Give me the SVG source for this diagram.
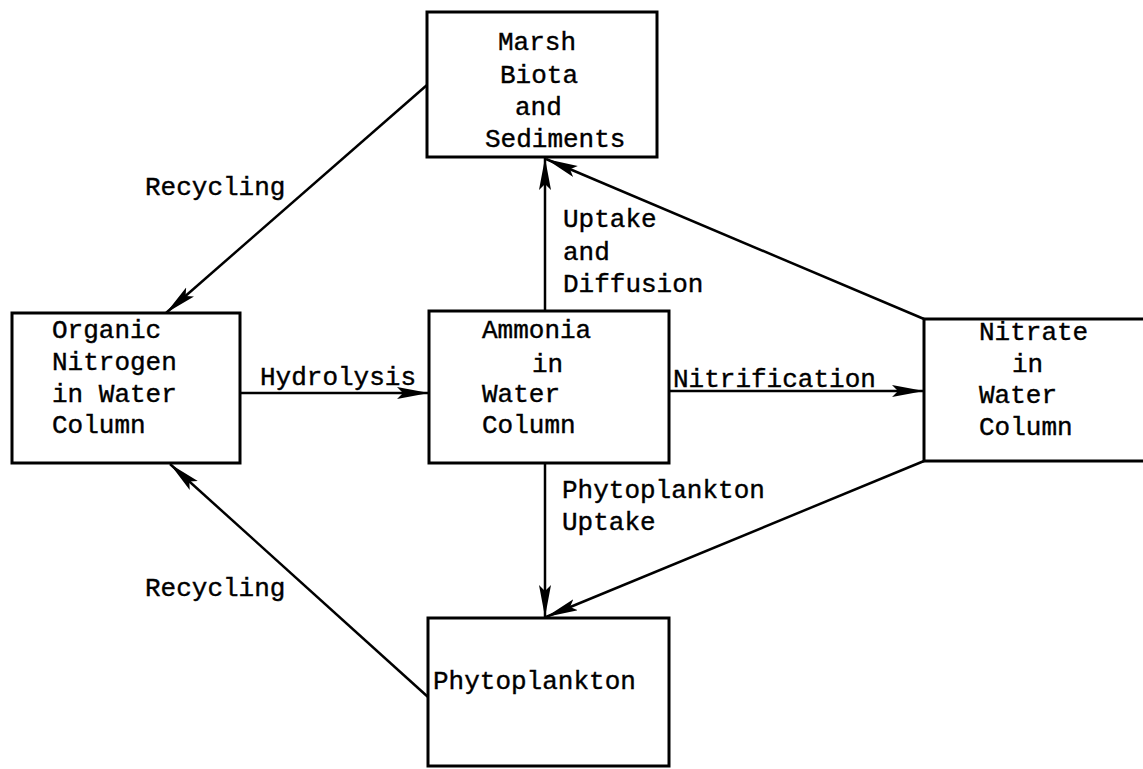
<svg xmlns="http://www.w3.org/2000/svg" width="1143" height="769" viewBox="0 0 1143 769">
<style>
.box{fill:#fff;stroke:#000;stroke-width:3}
.t{font-family:"Liberation Mono","Courier New",monospace;font-size:26px;fill:#000;stroke:#000;stroke-width:0.4}
.c{stroke:#000;stroke-width:2.5;fill:none}
</style>
<defs>
<marker id="ah" markerUnits="userSpaceOnUse" markerWidth="36" markerHeight="16" refX="32" refY="6" orient="auto">
<path d="M0,0 L32,6 L0,12 L6,6 Z" fill="#000"/>
</marker>
</defs>
<rect width="1143" height="769" fill="#fff"/>
<g id="connectors">
<line class="c" x1="427" y1="85" x2="166" y2="313" marker-end="url(#ah)"/>
<line class="c" x1="428" y1="697" x2="170" y2="464" marker-end="url(#ah)"/>
<line class="c" x1="240" y1="393" x2="429" y2="393" marker-end="url(#ah)"/>
<line class="c" x1="669" y1="391" x2="924" y2="391" marker-end="url(#ah)"/>
<line class="c" x1="545" y1="311" x2="545" y2="158" marker-end="url(#ah)"/>
<line class="c" x1="924" y1="319" x2="546" y2="159" marker-end="url(#ah)"/>
<line class="c" x1="545" y1="463" x2="545" y2="617" marker-end="url(#ah)"/>
<line class="c" x1="924" y1="461" x2="546" y2="617" marker-end="url(#ah)"/>
</g>
<g id="labels">
<text class="t" x="145" y="195">Recycling</text>
<text class="t" x="145" y="596">Recycling</text>
<text class="t" x="260" y="385">Hydrolysis</text>
<text class="t" x="673" y="387">Nitrification</text>
<text class="t" x="563" y="227">Uptake</text>
<text class="t" x="563" y="260">and</text>
<text class="t" x="563" y="292">Diffusion</text>
<text class="t" x="562" y="498">Phytoplankton</text>
<text class="t" x="562" y="530">Uptake</text>
</g>
<g id="marsh">
<rect class="box" x="427" y="12" width="230" height="145"/>
<text class="t" x="498" y="50">Marsh</text>
<text class="t" x="500" y="83">Biota</text>
<text class="t" x="515" y="115">and</text>
<text class="t" x="485" y="147">Sediments</text>
</g>
<g id="organic">
<rect class="box" x="12" y="313" width="228" height="150"/>
<text class="t" x="52" y="338">Organic</text>
<text class="t" x="52" y="370">Nitrogen</text>
<text class="t" x="52" y="402">in Water</text>
<text class="t" x="52" y="433">Column</text>
</g>
<g id="ammonia">
<rect class="box" x="429" y="311" width="240" height="152"/>
<text class="t" x="482" y="338">Ammonia</text>
<text class="t" x="532" y="372">in</text>
<text class="t" x="482" y="402">Water</text>
<text class="t" x="482" y="433">Column</text>
</g>
<g id="nitrate">
<rect class="box" x="924" y="319" width="230" height="142"/>
<text class="t" x="979" y="340">Nitrate</text>
<text class="t" x="1012" y="372">in</text>
<text class="t" x="979" y="403">Water</text>
<text class="t" x="979" y="435">Column</text>
</g>
<g id="phyto">
<rect class="box" x="428" y="618" width="241" height="148"/>
<text class="t" x="433" y="689">Phytoplankton</text>
</g>
</svg>
